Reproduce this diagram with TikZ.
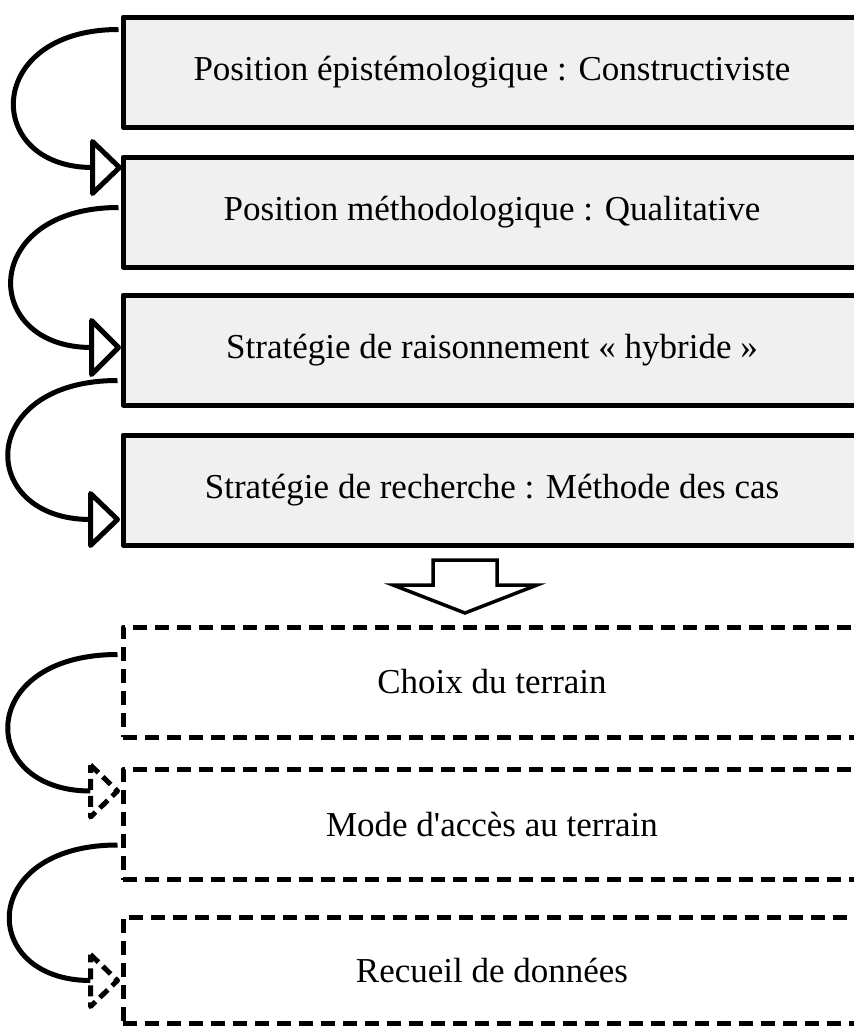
\documentclass[tikz,border=0pt]{standalone}
\usepackage{fontspec}
\setmainfont{Liberation Serif}
\usetikzlibrary{calc}
\definecolor{boxfill}{HTML}{F0F0F0}
\begin{document}
\begin{tikzpicture}[x=1pt,y=-1pt,
  label font/.style={font=\fontsize{35}{40}\selectfont},
  stage/.style={draw=black, line width=5pt, fill=boxfill, line join=round,
    minimum width=738pt, minimum height=110pt, inner sep=0pt, label font},
  fieldstep/.style={draw=black, line width=5pt, line join=round,
    dash pattern=on 14pt off 8pt,
    minimum width=738pt, minimum height=110pt, inner sep=0pt, label font},
  link/.style={draw=black, line width=5pt},
  head/.style={draw=black, line width=5pt, line join=round, fill=white},
  dashhead/.style={head, dash pattern=on 11pt off 6pt},
  bigarrow/.style={draw=black, line width=3.5pt, fill=white, line join=miter}]

\useasboundingbox (0,0) rectangle (854,1026);

% research design chain
\node[stage] (b1) at (492,72)  {Position épistémologique : Constructiviste};
\node[stage] (b2) at (492,212) {Position méthodologique : Qualitative};
\node[stage] (b3) at (492,350) {Stratégie de raisonnement « hybride »};
\node[stage] (b4) at (492,490) {Stratégie de recherche : Méthode des cas};

% field work steps
\node[fieldstep] (b5) at (492,682) {Choix du terrain};
\node[fieldstep] (b6) at (492,824.5) {Mode d\textquotesingle accès au terrain};
\node[fieldstep, minimum height=106pt] (b7) at (492,970) {Recueil de données};

% block arrow between the two groups
\draw[bigarrow] (433,560) -- (497,560) -- (497,585) -- (537,585) -- (465,613)
  -- (393,585) -- (433,585) -- cycle;

% start and tip points of the curved links
\coordinate (s1) at ($(b1.north west)+(-2,15)$);
\coordinate (t1) at ($(b2.north west)+(-1,13)$);
\coordinate (s2) at ($(b2.north west)+(-2,53)$);
\coordinate (t2) at ($(b3.north west)+(-2,55)$);
\coordinate (s3) at ($(b3.north west)+(-3,88)$);
\coordinate (t3) at ($(b4.north west)+(-3,87)$);
\coordinate (s4) at ($(b5.north west)+(-3,30)$);
\coordinate (t4) at ($(b6.north west)+(-3,24)$);
\coordinate (s5) at ($(b6.north west)+(-3,78)$);
\coordinate (t5) at ($(b7.north west)+(-3,66)$);

\foreach \i in {1,...,5} {\coordinate (h\i) at ($(t\i)+(-27,0)$);}

\draw[link] (s1) .. controls ($(s1)+(-135,0)$) and ($(h1)+(-110,0)$) .. (h1);
\draw[link] (s2) .. controls ($(s2)+(-139,0)$) and ($(h2)+(-112,0)$) .. (h2);
\draw[link] (s3) .. controls ($(s3)+(-142,0)$) and ($(h3)+(-114,0)$) .. (h3);
\draw[link] (s4) .. controls ($(s4)+(-142,0)$) and ($(h4)+(-114,0)$) .. (h4);
\draw[link] (s5) .. controls ($(s5)+(-140,0)$) and ($(h5)+(-112,0)$) .. (h5);

\draw[head] ($(h1)+(0,-26)$) -- (t1) -- ($(h1)+(0,26)$) -- cycle;
\draw[head] ($(h2)+(0,-27)$) -- (t2) -- ($(h2)+(0,27)$) -- cycle;
\draw[head] ($(h3)+(0,-26)$) -- (t3) -- ($(h3)+(0,26)$) -- cycle;
\draw[dashhead] ($(h4)+(0,-26)$) -- (t4) -- ($(h4)+(0,26)$) -- cycle;
\draw[dashhead] ($(h5)+(0,-26)$) -- (t5) -- ($(h5)+(0,26)$) -- cycle;
\end{tikzpicture}
\end{document}
